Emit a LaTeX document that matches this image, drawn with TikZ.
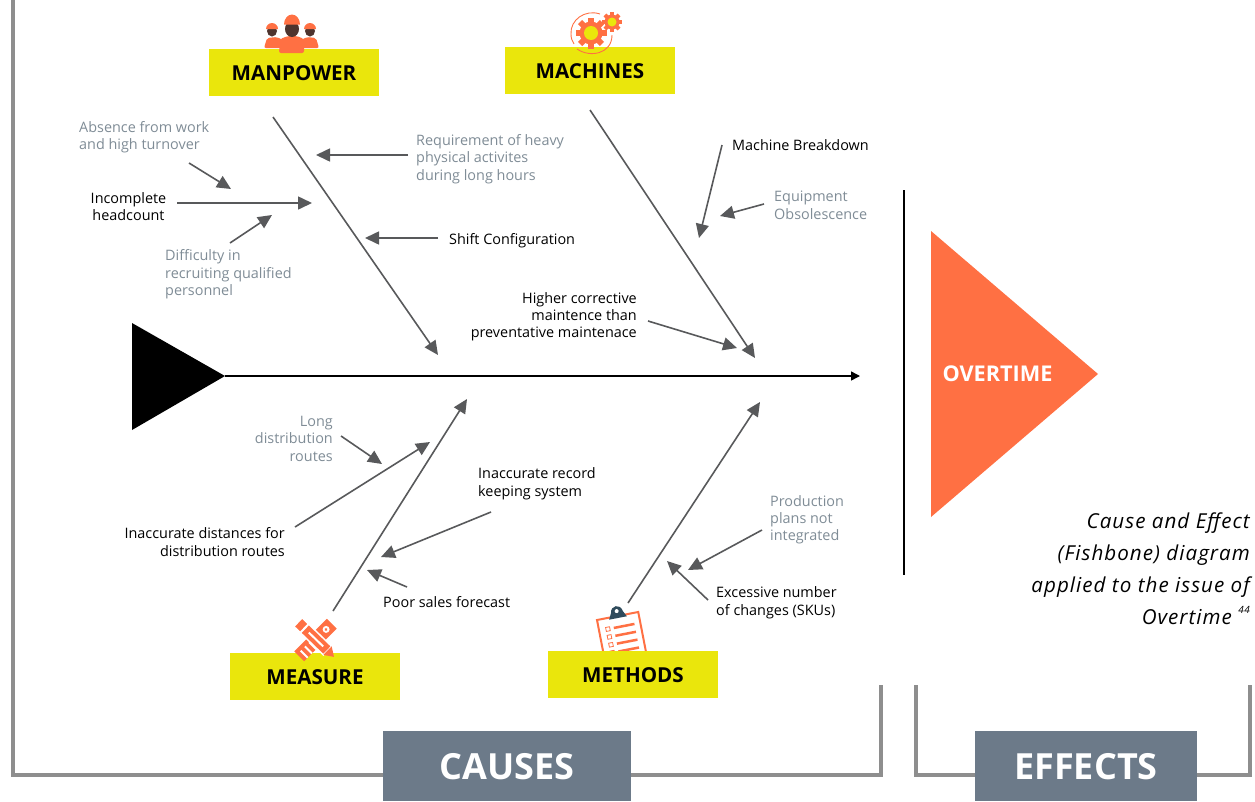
\documentclass[tikz,border=0pt]{standalone}
\usepackage{fontspec}
\setmainfont{Open Sans}
\newfontfamily\captionfont[LetterSpace=5]{Open Sans}
\usetikzlibrary{shapes}
\usetikzlibrary{arrows.meta}
\definecolor{boxyellow}{HTML}{EAE60C}
\definecolor{iconorange}{HTML}{FF7043}
\definecolor{slategrey}{HTML}{6C7A89}
\definecolor{bracketgrey}{HTML}{8E8E8E}
\definecolor{arrowgrey}{HTML}{58595B}
\definecolor{softtext}{HTML}{7F8C96}
\definecolor{facebrown}{HTML}{4E342E}
\definecolor{clipteal}{HTML}{2F4B5C}
\begin{document}
\begin{tikzpicture}[x=1pt,y=-1pt,
						bone/.style={draw=arrowgrey,line width=1.6pt,-{Triangle[length=14pt,width=13pt]}},
						bracket/.style={draw=bracketgrey,line width=3.5pt},
						category/.style={fill=boxyellow,minimum width=170pt,minimum height=47pt,inner sep=0pt,text height=16pt,text depth=0.3pt,font=\bfseries\fontsize{20.6}{24}\selectfont,text=black},
						sidebox/.style={fill=slategrey,minimum height=70pt,inner sep=0pt,text height=28pt,text depth=0.3pt,font=\bfseries\fontsize{36}{42}\selectfont,text=white},
						blacklabel/.style={inner sep=0pt,align=center,font=\fontsize{14.4}{17.4}\selectfont,text=black},
						softlabel/.style={inner sep=0pt,align=left,font=\fontsize{14.4}{17.4}\selectfont,text=softtext}
						]
						\useasboundingbox (0,0) rectangle (1255,801);
						% brackets
						\coordinate (c1) at (13,0);
						\coordinate (c2) at (881,685);
						\coordinate (e1) at (916,685);
						\coordinate (e2) at (1250,685);
						\draw[bracket] (c1) |- (383,775);
						\draw[bracket] (631,775) -| (c2);
						\draw[bracket] (e1) |- (975,775);
						\draw[bracket] (1197,775) -| (e2);
						\node[sidebox,minimum width=248pt](causes) at (507,766){CAUSES};
						\node[sidebox,minimum width=222pt](effects) at (1086,766){EFFECTS};
						% spine
						\fill[black] (132,323) -- (225,376) -- (132,430) -- cycle;
						\coordinate (spinestart) at (225,376);
						\coordinate (spineend) at (860,376);
						\draw[black,line width=1.5pt,-{Triangle[length=9pt,width=9pt]}] (spinestart) -- (spineend);
						% effect
						\draw[black,line width=1.5pt] (904,190) -- (904,575);
						\fill[iconorange] (931,231) -- (1098,374) -- (931,517) -- cycle;
						\node[inner sep=0pt,text=white,font=\bfseries\fontsize{21.7}{24}\selectfont](overtime) at (997.5,374){OVERTIME};
						\node[inner sep=0pt,anchor=north east,align=right,font=\captionfont\itshape\fontsize{20.6}{32}\selectfont](caption) at (1250,512.5){Cause and Effect\\(Fishbone) diagram\\applied to the issue of\\Overtime \raisebox{1.0ex}{\fontsize{10}{10}\selectfont 44}};
						% clipboard goes under its box
						\begin{scope}[shift={(597,620)},rotate=11]
						\draw[iconorange,line width=2pt,fill=white] (0,0) rectangle (42,50);
						\foreach \y in {11,19,27,35,43}{
							\draw[iconorange,line width=2.5pt] (15,\y) -- (36,\y);
							\draw[iconorange,line width=.8pt] (7,\y-2) rectangle (11,\y+2);
						}
						\fill[clipteal] (12,2) -- (15,-4) .. controls (16,-12) and (26,-12) .. (27,-4) -- (30,2) -- cycle;
						\fill[white] (21,-5) circle (2pt);
						\end{scope}
						% categories
						\node[category](manpower) at (294,72.5){MANPOWER};
						\node[category](machines) at (590,70.5){MACHINES};
						\node[category](measure) at (315,676.5){MEASURE};
						\node[category](methods) at (633,674.5){METHODS};
						% workers
						\fill[iconorange,rounded corners=2pt] (264,48) -- (267,38) -- (277,37) -- (283,40) -- (283,48) -- cycle;
						\fill[iconorange,rounded corners=2pt] (301,48) -- (301,40) -- (307,37) -- (316,38) -- (319,48) -- cycle;
						\fill[facebrown] (272,31) ellipse (5pt and 5.5pt);
						\fill[facebrown] (310,31) ellipse (5pt and 5.5pt);
						\fill[iconorange] (266,29) arc (180:0:6pt) -- cycle;
						\fill[iconorange] (304,29) arc (180:0:6pt) -- cycle;
						\fill[iconorange,rounded corners=2pt] (279,53) -- (280,39) -- (288,36) -- (297,36) -- (304,39) -- (304,53) -- cycle;
						\fill[facebrown] (292,29) ellipse (7pt and 8pt);
						\fill[iconorange] (284,24.5) arc (180:0:8pt and 10pt) -- cycle;
						% gears
						\foreach \a in {0,45,...,315}{
							\fill[iconorange,shift={(591,33)},rotate=\a] (-3,-15.5) rectangle (3,-9);
						}
						\fill[iconorange] (591,33) circle (11.5pt);
						\fill[boxyellow] (591,33) circle (7pt);
						\foreach \a in {0,45,...,315}{
							\fill[iconorange,shift={(612,22)},rotate=\a] (-2,-10) rectangle (2,-6);
						}
						\fill[iconorange] (612,22) circle (7.5pt);
						\fill[boxyellow] (612,22) circle (4.5pt);
						\draw[iconorange,line width=.9pt] (600,14) .. controls (585,9) and (570,20) .. (571,34) .. controls (571,38) and (572,41) .. (574,44);
						\draw[iconorange,line width=.9pt] (577,49) .. controls (590,58) and (612,54) .. (612,35);
						% pencil and ruler
						\begin{scope}[shift={(315.5,640)},rotate=45]
						\fill[iconorange] (-23,-7) rectangle (23,7);
						\foreach \x in {-19,-13,-7}{
							\fill[white] (\x,-3) rectangle (\x+2,7);
						}
						\fill[white] (15,0) circle (3.5pt);
						\fill[iconorange] (15,0) circle (1.6pt);
						\end{scope}
						\begin{scope}[shift={(316,639.5)},rotate=-44]
						\draw[white,line width=1.5pt,fill=iconorange] (-25,-6) rectangle (16,6);
						\fill[white] (-17,-6) rectangle (-15,6);
						\fill[white] (-10,-1) rectangle (10,1);
						\fill[iconorange] (16,-6) -- (25,0) -- (16,6) -- cycle;
						\end{scope}
						% labels manpower
						\node[softlabel,anchor=north west](absence) at (79,121){Absence from work\\and high turnover};
						\node[blacklabel](headcount) at (128.5,206.5){Incomplete\\headcount};
						\node[softlabel,anchor=north west](difficulty) at (165,249.5){Difficulty in\\recruiting qualified\\personnel};
						\node[softlabel,anchor=north west](heavy) at (416,134){Requirement of heavy\\physical activites\\during long hours};
						\node[blacklabel,anchor=west](shift) at (449,241){Shift Configuration};
						% labels machines
						\node[blacklabel,anchor=west](breakdown) at (732,145){Machine Breakdown};
						\node[softlabel,anchor=north west](obsolescence) at (774,191){Equipment\\Obsolescence};
						\node[blacklabel,anchor=north east,align=right](corrective) at (637,292){Higher corrective\\maintence than\\preventative maintenace};
						% labels measure
						\node[softlabel,anchor=north east,align=right](routes) at (333,416){Long\\distribution\\routes};
						\node[blacklabel,anchor=north east,align=right](distances) at (285,527.5){Inaccurate distances for\\distribution routes};
						\node[blacklabel,anchor=north west,align=left](record) at (478,467.5){Inaccurate record\\keeping system};
						\node[blacklabel,anchor=west](forecast) at (383,602.5){Poor sales forecast};
						% labels methods
						\node[softlabel,anchor=north west](plans) at (770,495){Production\\plans not\\integrated};
						\node[blacklabel,anchor=north west,align=left](changes) at (716,586.5){Excessive number\\of changes (SKUs)};
						% free ends
						\coordinate (mpa) at (273,117); \coordinate (mpb) at (438,355);
						\coordinate (maa) at (590,110); \coordinate (mab) at (755,358);
						\coordinate (msa) at (333,611); \coordinate (msb) at (467,399);
						\coordinate (mta) at (628,603); \coordinate (mtb) at (760,402);
						\draw[bone] (mpa) -- (mpb);
						\draw[bone] (maa) -- (mab);
						\draw[bone] (msa) -- (msb);
						\draw[bone] (mta) -- (mtb);
						\coordinate (t1a) at (189,163); \coordinate (t1b) at (231,189);
						\coordinate (t2a) at (177,203); \coordinate (t2b) at (312,203);
						\coordinate (t3a) at (230,243); \coordinate (t3b) at (272,215);
						\coordinate (t4a) at (408,155); \coordinate (t4b) at (316,155);
						\coordinate (t5a) at (438,238); \coordinate (t5b) at (365,238);
						\coordinate (t6a) at (722,145); \coordinate (t6b) at (699,238);
						\coordinate (t7a) at (764,204); \coordinate (t7b) at (720,216);
						\coordinate (t8a) at (648,321); \coordinate (t8b) at (737,348);
						\coordinate (t9a) at (341,436); \coordinate (t9b) at (382,464);
						\coordinate (t10a) at (295,527); \coordinate (t10b) at (430,442);
						\coordinate (t11a) at (491,512); \coordinate (t11b) at (381,557);
						\coordinate (t12a) at (407,587); \coordinate (t12b) at (367,570);
						\coordinate (t13a) at (762,530); \coordinate (t13b) at (688,570);
						\coordinate (t14a) at (708,600); \coordinate (t14b) at (667,561);
						\foreach \n in {1,...,14}{
							\draw[bone] (t\n a) -- (t\n b);
						}
						\end{tikzpicture}
\end{document}
